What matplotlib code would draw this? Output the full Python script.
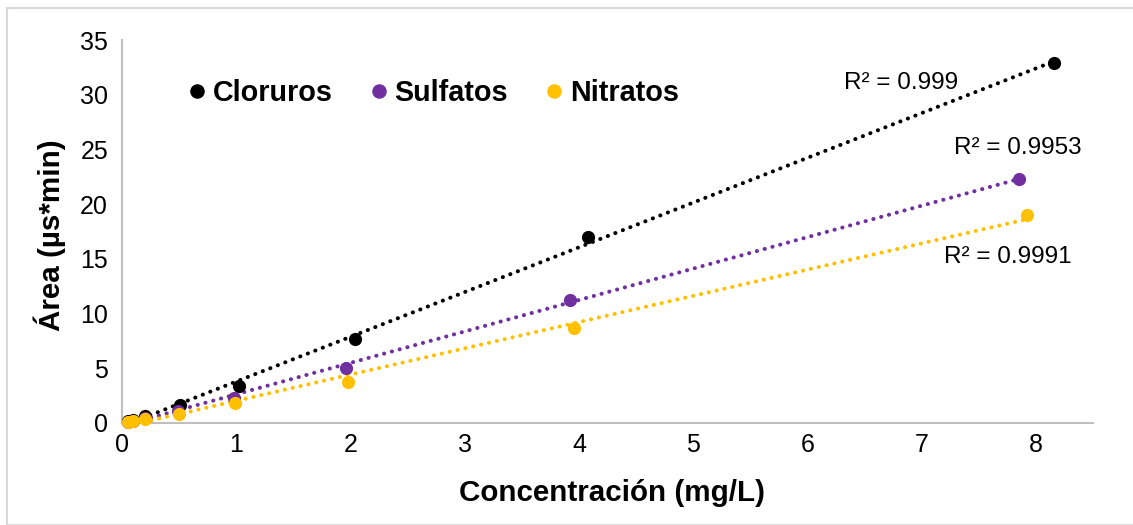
import numpy as np
import matplotlib
matplotlib.use("Agg")
import matplotlib.pyplot as plt
from matplotlib.patches import Rectangle

plt.rcParams['font.family'] = ['Liberation Sans', 'DejaVu Sans']

# Calibration data: concentration (mg/L) vs. peak area (µs*min)
cloruros_x = [0.05, 0.1, 0.2, 0.51, 1.02, 2.04, 4.08, 8.16]
cloruros_y = [0.15, 0.3, 0.62, 1.6, 3.4, 7.7, 17.0, 32.9]

sulfatos_x = [0.05, 0.1, 0.2, 0.49, 0.98, 1.96, 3.92, 7.85]
sulfatos_y = [0.1, 0.2, 0.42, 1.1, 2.3, 5.0, 11.25, 22.3]

nitratos_x = [0.05, 0.1, 0.2, 0.5, 0.99, 1.98, 3.96, 7.92]
nitratos_y = [0.08, 0.15, 0.35, 0.85, 1.8, 3.75, 8.7, 19.0]

series_names = ["Cloruros", "Sulfatos", "Nitratos"]
series_colors = ["#000000", "#7030a0", "#ffc000"]
r2_labels = ["R² = 0.999", "R² = 0.9953", "R² = 0.9991"]
r2_positions = [(6.32, 31.1), (7.28, 25.1), (7.20, 15.2)]

x_ticks = [0, 1, 2, 3, 4, 5, 6, 7, 8]
y_ticks = [0, 5, 10, 15, 20, 25, 30, 35]

W, H = 1133, 525
fig = plt.figure(figsize=(W / 100, H / 100), dpi=100)
ax = fig.add_axes([122 / W, 1 - 423 / H, (1093 - 122) / W, (423 - 40) / H])

# Chart area border
fig.patches.append(Rectangle((7 / W, 0), 1.0, 1 - 8 / H, transform=fig.transFigure,
                             fill=False, edgecolor="#d9d9d9", linewidth=1.5, zorder=0))

data = [(cloruros_x, cloruros_y), (sulfatos_x, sulfatos_y), (nitratos_x, nitratos_y)]
for (xs, ys), name, color in zip(data, series_names, series_colors):
    xs = np.asarray(xs)
    ys = np.asarray(ys)
    slope, intercept = np.polyfit(xs, ys, 1)
    fx = np.array([xs.min(), xs.max()])
    ax.plot(fx, slope * fx + intercept, linestyle=(0, (0.05, 1.95)), linewidth=2.9,
            color=color, dash_capstyle="round", zorder=2)
    ax.plot(xs, ys, "o", markersize=9.5, color=color, markeredgewidth=0, label=name,
            zorder=3, clip_on=False)

for text, (tx, ty) in zip(r2_labels, r2_positions):
    ax.text(tx, ty, text, fontsize=17.5, ha="left", va="center", color="#000000")

ax.set_xlim(0, 8.5)
ax.set_ylim(0, 35)
ax.set_xticks(x_ticks)
ax.set_yticks(y_ticks)
ax.tick_params(length=0, labelsize=18, pad=7, colors="#000000")
ax.tick_params(axis="y", pad=10)

for side in ["top", "right"]:
    ax.spines[side].set_visible(False)
for side in ["left", "bottom"]:
    ax.spines[side].set_color("#bfbfbf")
    ax.spines[side].set_linewidth(1.5)

fig.text(612 / W, 1 - 493 / H, "Concentración (mg/L)", fontsize=21.3, fontweight="bold",
         ha="center", va="center")
fig.text(50 / W, 1 - 235 / H, "Área (µs*min)", fontsize=21.3, fontweight="bold",
         ha="center", va="center", rotation=90)

leg = ax.legend(loc="upper left", bbox_to_anchor=(181 / W, 1 - 79 / H),
                bbox_transform=fig.transFigure, ncol=3, frameon=False,
                prop={"size": 20.7, "weight": "bold"}, handletextpad=0.0,
                columnspacing=1.05, handlelength=1.1, markerscale=1.1,
                borderaxespad=0, borderpad=0)

fig.savefig("out.png", dpi=100, facecolor="white")
